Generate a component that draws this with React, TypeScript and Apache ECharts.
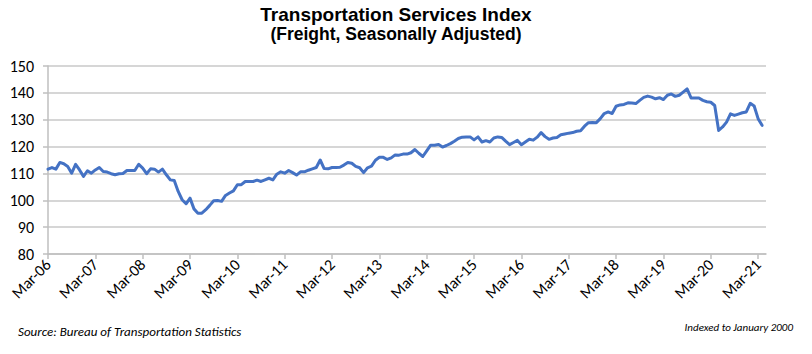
import React, { useEffect, useRef } from "react";
import * as echarts from "echarts";

const monthNames = ["Jan", "Feb", "Mar", "Apr", "May", "Jun", "Jul", "Aug", "Sep", "Oct", "Nov", "Dec"];
const startYear = 2006;
const startMonth = 2; // March
const categoryCount = 183; // Mar-06 .. May-21 (axis extends one month past the last point)

const tsiValues: number[] = [
  // 2006 (Mar-Dec)
  111.6, 112.2, 111.6, 114.1, 113.6, 112.6, 110.1, 113.4, 111.3, 108.9,
  // 2007
  111.0, 110.1, 111.3, 112.2, 110.7, 110.5, 109.9, 109.5, 109.9, 110.0, 111.1, 111.1,
  // 2008
  111.1, 113.4, 112.0, 109.9, 111.7, 111.6, 110.5, 111.6, 109.5, 107.6, 107.4, 103.3,
  // 2009
  100.2, 98.7, 100.8, 96.8, 95.2, 95.2, 96.5, 98.1, 99.8, 99.9, 99.6, 101.8,
  // 2010
  102.7, 103.5, 105.8, 105.8, 107.0, 107.0, 107.0, 107.5, 107.0, 107.6, 108.2, 107.6,
  // 2011
  109.7, 110.6, 110.1, 111.1, 110.3, 109.4, 110.6, 110.6, 111.2, 111.7, 112.2, 115.0,
  // 2012
  111.8, 111.7, 112.2, 112.2, 112.3, 113.1, 114.1, 113.8, 112.6, 112.1, 110.3, 112.1,
  // 2013
  112.7, 114.9, 116.0, 116.0, 115.2, 115.8, 116.9, 116.8, 117.2, 117.2, 117.7, 118.9,
  // 2014
  117.5, 116.3, 118.4, 120.5, 120.5, 120.8, 119.8, 120.4, 121.1, 122.0, 123.0, 123.5,
  // 2015
  123.6, 123.6, 122.5, 123.6, 121.7, 122.2, 121.7, 123.2, 123.6, 123.4, 122.0, 120.7,
  // 2016
  121.5, 122.3, 120.7, 121.7, 122.7, 122.4, 123.5, 125.2, 123.7, 122.7, 123.2, 123.4,
  // 2017
  124.4, 124.7, 125.0, 125.2, 125.7, 125.9, 127.6, 128.9, 129.0, 128.9, 130.4, 132.3,
  // 2018
  132.9, 132.3, 135.0, 135.5, 135.7, 136.3, 136.2, 136.0, 137.2, 138.3, 138.8, 138.4,
  // 2019
  137.8, 138.2, 137.5, 139.1, 139.6, 138.7, 139.1, 140.3, 141.5, 138.1, 138.1, 138.1,
  // 2020
  137.2, 136.7, 136.5, 135.3, 126.0, 127.3, 129.1, 132.2, 131.6, 132.1, 132.6, 132.9,
  // 2021 (Jan-Apr)
  136.1, 135.1, 130.4, 127.9,
];

const yTicksMin = 80;
const yTicksMax = 150;
const yTickStep = 10;

const titleText = "Transportation Services Index";
const subtitleText = "(Freight, Seasonally Adjusted)";
const sourceText = "Source: Bureau of Transportation Statistics";
const noteText = "Indexed to January 2000";

function buildCategories(): string[] {
  const out: string[] = [];
  for (let i = 0; i < categoryCount; i++) {
    const m = (startMonth + i) % 12;
    const y = startYear + Math.floor((startMonth + i) / 12);
    out.push(monthNames[m] + "-" + String(y % 100).padStart(2, "0"));
  }
  return out;
}

export default function App() {
  const ref = useRef<HTMLDivElement>(null);
  useEffect(() => {
    if (!ref.current) return;
    const chart = echarts.init(ref.current, undefined, { renderer: "svg" });
    const categories = buildCategories();
    const isMarch = (idx: number) => idx % 12 === 0 && idx <= 180;
    chart.setOption({
      animation: false,
      backgroundColor: "#ffffff",
      grid: { left: 48, right: 46, top: 66, bottom: 100, containLabel: false },
      xAxis: {
        type: "category",
        data: categories,
        boundaryGap: false,
        axisLine: { show: true, lineStyle: { color: "#bfbfbf", width: 1.5 } },
        axisTick: { show: true, length: 5, interval: (idx: number) => isMarch(idx), lineStyle: { color: "#bfbfbf", width: 1.5 } },
        axisLabel: {
          interval: (idx: number) => isMarch(idx),
          rotate: 45,
          margin: 8,
          color: "#000000",
          fontSize: 16,
          fontFamily: "Carlito, Lato, 'Liberation Sans', sans-serif",
        },
        splitLine: { show: false },
      },
      yAxis: {
        type: "value",
        min: yTicksMin,
        max: yTicksMax,
        interval: yTickStep,
        axisLine: { show: true, lineStyle: { color: "#bfbfbf", width: 1.5 } },
        axisTick: { show: true, length: 5, lineStyle: { color: "#bfbfbf", width: 1.5 } },
        axisLabel: {
          margin: 14,
          color: "#000000",
          fontSize: 16,
          fontFamily: "Carlito, Lato, 'Liberation Sans', sans-serif",
        },
        splitLine: { show: true, lineStyle: { color: "#c8c8c8", width: 1.5 } },
      },
      series: [
        {
          type: "line",
          data: tsiValues,
          showSymbol: false,
          symbol: "none",
          lineStyle: { color: "#4472C4", width: 3, cap: "round", join: "round" },
          itemStyle: { color: "#4472C4" },
        },
      ],
      graphic: [
        {
          type: "text",
          x: 396,
          y: 14,
          style: {
            text: titleText,
            fill: "#000",
            font: "bold 19px 'Liberation Sans', Arial, sans-serif",
            textAlign: "center",
            textVerticalAlign: "middle",
          },
        },
        {
          type: "text",
          x: 396,
          y: 34,
          style: {
            text: subtitleText,
            fill: "#000",
            font: "bold 17.5px 'Liberation Sans', Arial, sans-serif",
            textAlign: "center",
            textVerticalAlign: "middle",
          },
        },
        {
          type: "text",
          x: 18,
          y: 331,
          style: {
            text: sourceText,
            fill: "#000",
            font: "italic 13px Carlito, Lato, 'Liberation Sans', sans-serif",
            textAlign: "left",
            textVerticalAlign: "middle",
          },
        },
        {
          type: "text",
          x: 793,
          y: 327,
          style: {
            text: noteText,
            fill: "#000",
            font: "italic 11px Carlito, Lato, 'Liberation Sans', sans-serif",
            textAlign: "right",
            textVerticalAlign: "middle",
          },
        },
      ],
    });
    return () => chart.dispose();
  }, []);
  return <div ref={ref} style={{ position: "fixed", left: 0, top: 0, width: 812, height: 354 }} />;
}
